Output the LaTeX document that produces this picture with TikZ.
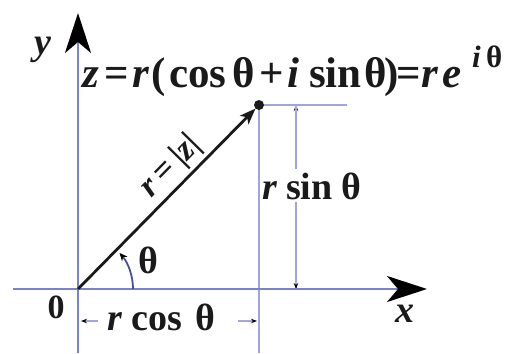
\documentclass[tikz,border=0pt]{standalone}
\usepackage{fontspec}
\setmainfont{Liberation Serif}
\usetikzlibrary{arrows.meta}
\definecolor{axisblue}{HTML}{7C82C6}
\definecolor{thinblue}{HTML}{A0A6DC}
\definecolor{arccol}{HTML}{4A4F9A}
\definecolor{ink}{HTML}{1A1A1A}
\newcommand\pc[2]{\makebox[#1pt][l]{#2}}
\newcommand\vi[1]{\textit{#1}}
\begin{document}
\begin{tikzpicture}[x=1pt,y=-1pt,
  lbl/.style={font=\fontsize{38}{42}\selectfont\bfseries, text=ink, inner sep=0pt},
  axisline/.style={draw=axisblue, line width=2.6pt},
  thinline/.style={draw=thinblue, line width=1.3pt},
  bigtip/.style={-{Stealth[length=40pt,width=26pt,inset=11pt,color=black]}},
  smalltip/.style={-{Stealth[length=6pt,width=4.5pt,color=black]}}]
\useasboundingbox (0,0) rectangle (510,353);
\coordinate (O) at (78,289);
\coordinate (P) at (259,105);
\coordinate (xs) at (13,289);
\coordinate (xe) at (427,289);
\coordinate (ys) at (78,353);
\coordinate (ye) at (78,13);
\coordinate (Pb) at (259,353);
\coordinate (Pr) at (347,105);
\coordinate (st) at (296,105);
\coordinate (sb) at (296,289);
\coordinate (cl) at (81,321);
\coordinate (cr) at (257,321);
\coordinate (arcs) at (133,289);
% thin guide lines
\draw[thinline] (P) -- (Pb);
\draw[thinline] (P) -- (Pr);
% axes
\draw[axisline, bigtip] (xs) -- (xe);
\draw[axisline, bigtip] (ys) -- (ye);
% r sin theta dimension
\draw[thinline, smalltip] (sb) -- (st);
\draw[thinline, smalltip] (st) -- (sb);
\node[lbl, fill=white, inner ysep=3pt, anchor=base west] (rs) at (262,199)
  {\pc{24}{\vi{r}}\pc{55}{sin}θ};
% r cos theta dimension
\node[lbl, anchor=base west] (rc) at (107,330)
  {\pc{24}{\vi{r}}\pc{64}{cos}θ};
\coordinate (cl2) at (98,321);
\coordinate (cr2) at (238,321);
\draw[thinline, smalltip] (cl2) -- (cl);
\draw[thinline, smalltip] (cr2) -- (cr);
% vector
\draw[line width=2.8pt, draw=ink, -{Stealth[length=16pt,width=12pt,inset=4pt]}, shorten >=5pt]
  (O) -- node[lbl, font=\fontsize{34}{36}\selectfont\bfseries, pos=0.59, above=3pt, sloped] (rz) {\vi{r}\,=\,|\vi{z}|} (P);
\fill[ink] (P) circle (5pt);
% angle arc
\draw[draw=arccol, line width=1.8pt, -{Stealth[length=8pt,width=7pt,color=black]}]
  (arcs) arc[start angle=0, end angle=-41, radius=55];
% labels
\node[lbl] (th) at (148,260) {θ};
\node[lbl, font=\fontsize{34}{38}\selectfont\bfseries] (zero) at (56,307) {0};
\node[lbl, anchor=base] (ylab) at (43,54) {\vi{y}};
\node[lbl] (xlab) at (405,314) {\vi{x}};
\node[lbl, font=\fontsize{43}{46}\selectfont\bfseries, anchor=base west] (eq) at (82,87)
  {\pc{22}{\vi{z}}\pc{28}{=}\pc{19}{\vi{r}}\pc{18}{(}\pc{63}{cos}\pc{27}{θ}\pc{28}{+}\pc{22}{\vi{i}}\pc{55}{sin}\pc{20}{θ}\pc{12}{)}\pc{25}{=}\pc{21}{\vi{r}}\pc{30}{\vi{e}}\raisebox{20pt}{\fontsize{31}{33}\selectfont\pc{14}{\vi{i}}θ}};
\end{tikzpicture}
\end{document}
